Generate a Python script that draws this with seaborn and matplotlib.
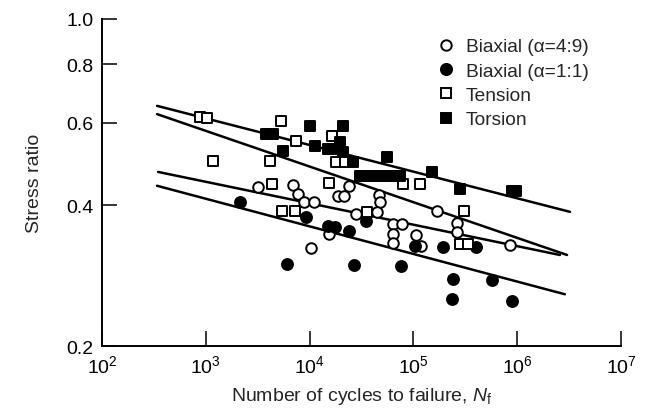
import matplotlib
matplotlib.use("Agg")
import matplotlib.pyplot as plt
import seaborn as sns
import pandas as pd
from matplotlib.ticker import FixedLocator, FixedFormatter, NullLocator
from matplotlib.lines import Line2D

# ---- fatigue data: cycles to failure (N) and stress ratio (S) ----
biax49_N = [3180, 6920, 7730, 8830, 11030, 18800, 21500, 24000, 28000, 46600,
            47700, 44600, 63600, 63600, 63600, 77700, 15400, 10300, 168800,
            263000, 263000, 852000, 105900, 118400]
biax49_S = [0.437, 0.442, 0.4225, 0.406, 0.406, 0.418, 0.418, 0.4395, 0.383,
            0.420, 0.406, 0.387, 0.3645, 0.347, 0.332, 0.3645, 0.347, 0.324,
            0.3886, 0.366, 0.350, 0.3287, 0.345, 0.327]

biax11_N = [2140, 9230, 15040, 17600, 24000, 34900, 6060, 26800, 76000,
            103600, 193000, 401000, 240700, 572000, 235500, 891000]
biax11_S = [0.406, 0.377, 0.361, 0.359, 0.352, 0.370, 0.2995, 0.298, 0.2963,
            0.327, 0.3255, 0.3255, 0.278, 0.2767, 0.252, 0.2495]

tension_N = [880, 1030, 5300, 7400, 1170, 4150, 16400, 18000, 21900, 4340,
             15400, 5420, 7240, 35700, 79400, 115800, 307000, 281000, 336000]
tension_S = [0.617, 0.614, 0.605, 0.548, 0.497, 0.497, 0.562, 0.494, 0.494,
             0.444, 0.446, 0.389, 0.389, 0.387, 0.444, 0.444, 0.389, 0.330,
             0.330]

torsion_N = [3800, 4440, 5540, 10100, 11300, 15040, 16800, 19600, 21000,
             21000, 26200, 55700, 151000, 281000, 891000, 974000,
             30600, 36500, 43600, 52100, 62200, 74300]
torsion_S = [0.568, 0.568, 0.522, 0.590, 0.535, 0.527, 0.527, 0.545, 0.519,
             0.590, 0.494, 0.507, 0.471, 0.433, 0.429, 0.429,
             0.4615, 0.4615, 0.4615, 0.4615, 0.4615, 0.4615]

# fitted S-N lines (end points)
fit_torsion_N = [339, 3.23e6]
fit_torsion_S = [0.652, 0.387]
fit_tension_N = [339, 3.02e6]
fit_tension_S = [0.626, 0.313]
fit_biax49_N = [347, 2.58e6]
fit_biax49_S = [0.471, 0.313]
fit_biax11_N = [339, 2.88e6]
fit_biax11_S = [0.440, 0.258]

series_labels = ["Biaxial (\u03b1=4:9)", "Biaxial (\u03b1=1:1)", "Tension", "Torsion"]
y_ticks = [0.2, 0.4, 0.6, 0.8, 1.0]
y_ticklabels = ["0.2", "0.4", "0.6", "0.8", "1.0"]
x_ticks = [1e2, 1e3, 1e4, 1e5, 1e6, 1e7]
x_ticklabels = [r"$10^{2}$", r"$10^{3}$", r"$10^{4}$", r"$10^{5}$", r"$10^{6}$", r"$10^{7}$"]

sns.set_style("ticks")
plt.rcParams["font.family"] = ["Liberation Sans", "DejaVu Sans"]
plt.rcParams["mathtext.fontset"] = "custom"
plt.rcParams["mathtext.rm"] = "Liberation Sans"
plt.rcParams["mathtext.it"] = "Liberation Sans:italic"
plt.rcParams["mathtext.bf"] = "Liberation Sans:bold"

fig = plt.figure(figsize=(6.51, 4.14), dpi=100)
ax = fig.add_axes([0.1567, 0.1618, 0.7972, 0.7901])

# fitted lines
for fx, fy in [(fit_torsion_N, fit_torsion_S), (fit_tension_N, fit_tension_S),
               (fit_biax49_N, fit_biax49_S), (fit_biax11_N, fit_biax11_S)]:
    sns.lineplot(x=fx, y=fy, ax=ax, color="black", lw=1.8, zorder=2)

styles = [
    (biax49_N, biax49_S, "o", "white", 58),
    (biax11_N, biax11_S, "o", "black", 62),
    (tension_N, tension_S, "s", "white", 50),
    (torsion_N, torsion_S, "s", "black", 54),
]
for (xs, ys, mk, fc, sz), lab in zip(styles, series_labels):
    df = pd.DataFrame({"N": xs, "S": ys})
    sns.scatterplot(data=df, x="N", y="S", ax=ax, marker=mk, s=sz,
                    facecolor=fc, edgecolor="black", linewidth=1.4,
                    zorder=3, legend=False)

ax.set_xscale("log")
ax.set_yscale("log")
ax.set_xlim(1e2, 1e7)
ax.set_ylim(0.2, 1.0)

ax.yaxis.set_major_locator(FixedLocator(y_ticks))
ax.yaxis.set_major_formatter(FixedFormatter(y_ticklabels))
ax.yaxis.set_minor_locator(NullLocator())
ax.xaxis.set_major_locator(FixedLocator(x_ticks))
ax.xaxis.set_major_formatter(FixedFormatter(x_ticklabels))
ax.xaxis.set_minor_locator(NullLocator())

ax.tick_params(axis="both", direction="in", length=11, width=1.1,
               labelsize=14, colors="black", pad=6)
for side in ["top", "right"]:
    ax.spines[side].set_visible(False)
for side in ["left", "bottom"]:
    ax.spines[side].set_linewidth(1.4)
    ax.spines[side].set_color("black")

ax.set_xlabel(r"Number of cycles to failure, $N_\mathrm{f}$", fontsize=14, labelpad=6)
ax.set_ylabel("Stress ratio", fontsize=14, labelpad=17)

handles = [
    Line2D([], [], ls="none", marker="o", ms=7.5, mfc="white", mec="black", mew=1.4),
    Line2D([], [], ls="none", marker="o", ms=8, mfc="black", mec="black", mew=1.4),
    Line2D([], [], ls="none", marker="s", ms=7, mfc="white", mec="black", mew=1.4),
    Line2D([], [], ls="none", marker="s", ms=7.5, mfc="black", mec="black", mew=1.4),
]
ax.legend(handles, series_labels, loc="upper left", bbox_to_anchor=(0.645, 0.942),
          frameon=False, fontsize=13.8, handlelength=1.0, handletextpad=0.5,
          labelspacing=0.36, borderpad=0, borderaxespad=0)

fig.savefig("out.png", dpi=100)
